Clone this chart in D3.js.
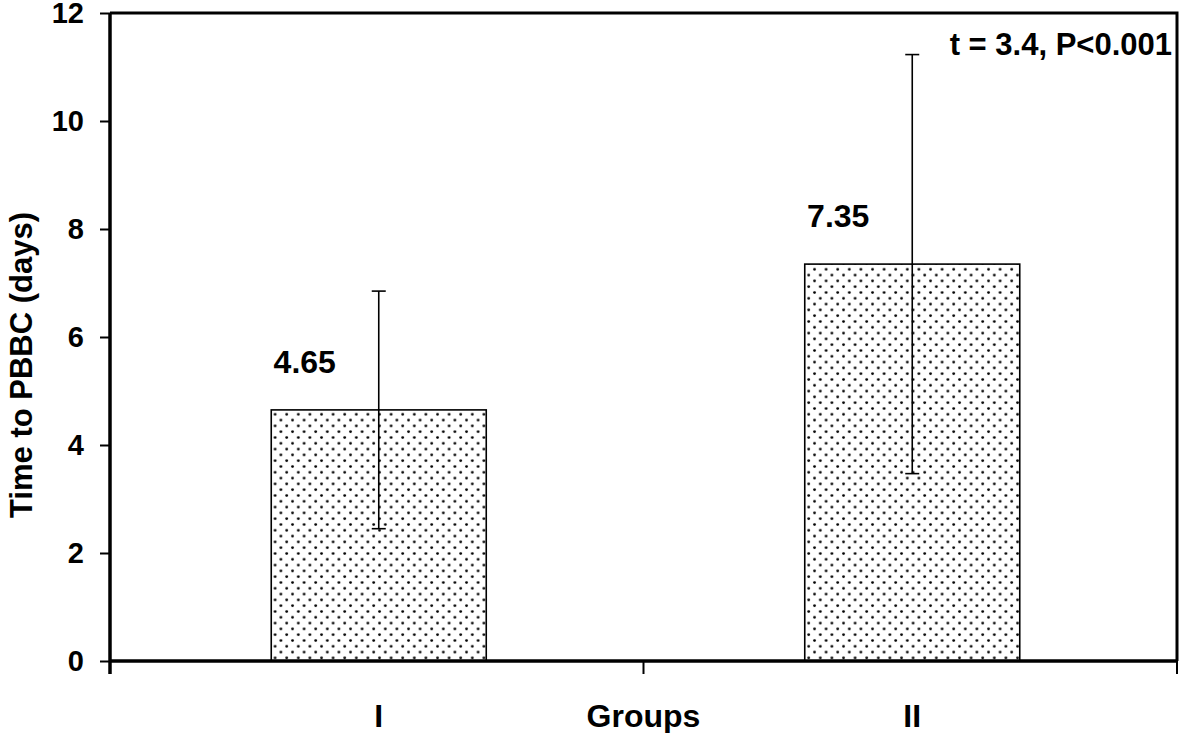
<!DOCTYPE html>
<html><head><meta charset="utf-8">
<script src="https://cdn.jsdelivr.net/npm/d3@7"></script>
<style>
html,body{margin:0;padding:0;background:#fff;}
svg{display:block;font-family:"Liberation Sans",Arial,sans-serif;font-weight:bold;}
</style></head>
<body>
<script>
const categories = ["I", "II"];
const means = [4.65, 7.35];
const sds = [2.2, 3.88];
const valueLabels = ["4.65", "7.35"];
const yTicks = [0, 2, 4, 6, 8, 10, 12];
const statText = "t = 3.4, P<0.001";
const xTitle = "Groups";
const yTitle = "Time to PBBC (days)";

const W = 1181, H = 733;
const m = {left: 110, right: 4, top: 13, bottom: 72};
const svg = d3.select("body").append("svg").attr("width", W).attr("height", H);

const defs = svg.append("defs");
const pat = defs.append("pattern").attr("id", "dots").attr("patternUnits", "userSpaceOnUse")
  .attr("width", 11.6).attr("height", 11.6);
pat.append("rect").attr("width", 11.6).attr("height", 11.6).attr("fill", "#fff");
pat.append("circle").attr("cx", 2.5).attr("cy", 2.5).attr("r", 1.4).attr("fill", "#000");
pat.append("circle").attr("cx", 8.3).attr("cy", 8.3).attr("r", 1.4).attr("fill", "#000");

const x = d3.scaleBand().domain(categories).range([m.left, W - m.right]).padding(0);
const y = d3.scaleLinear().domain([0, 12]).range([H - m.bottom, m.top]);
const bw = x.bandwidth() * 0.403;
const cx = c => x(c) + x.bandwidth() / 2 + 2;

const data = categories.map((c, i) => ({c, v: means[i], sd: sds[i], lab: valueLabels[i]}));

// bars
svg.selectAll("rect.bar").data(data).enter().append("rect").attr("class", "bar")
  .attr("x", d => cx(d.c) - bw / 2).attr("width", bw)
  .attr("y", d => y(d.v)).attr("height", d => y(0) - y(d.v))
  .attr("fill", "url(#dots)").attr("stroke", "#000").attr("stroke-width", 1.6);

// error bars
const eb = svg.selectAll("g.eb").data(data).enter().append("g").attr("class", "eb")
  .attr("stroke", "#000").attr("stroke-width", 1.6);
eb.append("line").attr("x1", d => cx(d.c)).attr("x2", d => cx(d.c))
  .attr("y1", d => y(d.v + d.sd)).attr("y2", d => y(d.v - d.sd));
eb.append("line").attr("x1", d => cx(d.c) - 7).attr("x2", d => cx(d.c) + 7)
  .attr("y1", d => y(d.v + d.sd)).attr("y2", d => y(d.v + d.sd));
eb.append("line").attr("x1", d => cx(d.c) - 7).attr("x2", d => cx(d.c) + 7)
  .attr("y1", d => y(d.v - d.sd)).attr("y2", d => y(d.v - d.sd));

// value labels
svg.selectAll("text.vl").data(data).enter().append("text").attr("class", "vl")
  .attr("x", d => cx(d.c) - 74).attr("y", d => y(d.v) - 48)
  .attr("text-anchor", "middle").attr("dominant-baseline", "central")
  .attr("font-size", 32).text(d => d.lab);

// frame top/right
svg.append("path").attr("d", `M${m.left},${m.top}H${W - m.right}V${H - m.bottom}`)
  .attr("fill", "none").attr("stroke", "#000").attr("stroke-width", 3);

// y axis
const ya = svg.append("g").attr("transform", `translate(${m.left},0)`)
  .call(d3.axisLeft(y).tickValues(yTicks).tickSize(10).tickPadding(16).tickFormat(d3.format("d")));
ya.select(".domain").attr("stroke-width", 3.5).attr("d", `M0,${m.top}V${H - m.bottom + 13}`);
ya.selectAll(".tick line").attr("stroke-width", 2);
ya.selectAll(".tick text").attr("font-size", 29).attr("font-family", "Liberation Sans, Arial")
  .attr("font-weight", "bold").attr("fill", "#000");

// x axis baseline and ticks
const bx = svg.append("g");
bx.append("line").attr("x1", m.left).attr("x2", W - m.right)
  .attr("y1", y(0)).attr("y2", y(0)).attr("stroke", "#000").attr("stroke-width", 3.5);
const bounds = [m.left, ...categories.slice(1).map(c => x(c)), W - m.right];
bx.selectAll("line.t").data(bounds).enter().append("line").attr("class", "t")
  .attr("x1", d => d).attr("x2", d => d).attr("y1", y(0)).attr("y2", y(0) + 13)
  .attr("stroke", "#000").attr("stroke-width", 2);

// category labels
svg.selectAll("text.cat").data(categories).enter().append("text").attr("class", "cat")
  .attr("x", d => cx(d)).attr("y", 716).attr("text-anchor", "middle")
  .attr("dominant-baseline", "central").attr("font-size", 32).text(d => d);

// x title
svg.append("text").attr("x", x(categories[1])).attr("y", 716).attr("text-anchor", "middle")
  .attr("dominant-baseline", "central").attr("font-size", 32).text(xTitle);

// y title
svg.append("text").attr("transform", `translate(32,${(y(0) + y(12)) / 2 + 28}) rotate(-90)`)
  .attr("text-anchor", "middle").attr("font-size", 31).text(yTitle);

// stat text
svg.append("text").attr("x", W - 9).attr("y", 44).attr("text-anchor", "end")
  .attr("dominant-baseline", "central").attr("font-size", 31).text(statText);
</script>
</body></html>
